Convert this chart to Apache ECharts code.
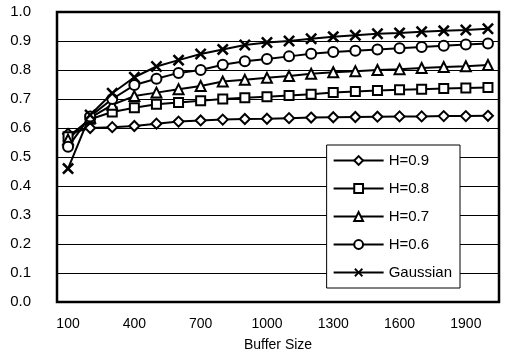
<!DOCTYPE html>
<html>
<head>
<meta charset="utf-8">
<script src="https://cdn.jsdelivr.net/npm/echarts@6/dist/echarts.min.js"></script>
<style>
  html, body { margin: 0; padding: 0; background: #fff; }
  #main { width: 508px; height: 361px; }
</style>
</head>
<body>
<div id="main"></div>
<script>
// buffer sizes
var bufferSize = ['100','200','300','400','500','600','700','800','900','1000',
                  '1100','1200','1300','1400','1500','1600','1700','1800','1900','2000'];

var h09 = [0.58, 0.60, 0.603, 0.607, 0.615, 0.622, 0.626, 0.629, 0.631, 0.632,
           0.634, 0.636, 0.637, 0.638, 0.639, 0.640, 0.640, 0.641, 0.641, 0.642];
var h08 = [0.57, 0.63, 0.655, 0.67, 0.682, 0.688, 0.694, 0.70, 0.704, 0.708,
           0.712, 0.716, 0.722, 0.726, 0.729, 0.732, 0.734, 0.736, 0.738, 0.74];
var h07 = [0.56, 0.635, 0.68, 0.71, 0.722, 0.734, 0.745, 0.76, 0.766, 0.773,
           0.779, 0.787, 0.792, 0.796, 0.80, 0.803, 0.807, 0.81, 0.813, 0.817];
var h06 = [0.535, 0.64, 0.70, 0.748, 0.77, 0.79, 0.80, 0.818, 0.83, 0.838,
           0.847, 0.856, 0.862, 0.866, 0.871, 0.875, 0.879, 0.884, 0.888, 0.891];
var gauss = [0.46, 0.645, 0.72, 0.775, 0.812, 0.834, 0.855, 0.871, 0.886, 0.895,
             0.90, 0.908, 0.915, 0.92, 0.925, 0.928, 0.932, 0.935, 0.938, 0.942];

var names = ['H=0.9', 'H=0.8', 'H=0.7', 'H=0.6', 'Gaussian'];

// X 形标记
var crossPath = 'path://M1.5,0 L5,3.5 L8.5,0 L10,1.5 L6.5,5 L10,8.5 L8.5,10 L5,6.5 L1.5,10 L0,8.5 L3.5,5 L0,1.5 Z';

function makeSeries(name, data, symbol, size, fill){
	return {
		name: name,
		type: 'line',
		data: data,
		symbol: symbol,
		symbolSize: size,
		showAllSymbol: true,
		lineStyle: { color: '#000', width: 2 },
		itemStyle: { color: fill, borderColor: '#000', borderWidth: 2 },
		emphasis: { disabled: true },
		animation: false
	};
}

var series = [
	makeSeries(names[0], h09, 'diamond', 10, '#fff'),
	makeSeries(names[1], h08, 'rect', 9, '#fff'),
	makeSeries(names[2], h07, 'triangle', 10, '#fff'),
	makeSeries(names[3], h06, 'circle', 10, '#fff'),
	makeSeries(names[4], gauss, crossPath, 12, '#000')
];
series[4].itemStyle.borderWidth = 0;

var option = {
	animation: false,
	textStyle: { fontFamily: 'Liberation Sans, Arial, sans-serif', color: '#000' },
	grid: {
		left: 57, right: 9, top: 12, bottom: 59,
		show: true,
		borderColor: '#000',
		borderWidth: 2.5
	},
	legend: {
		orient: 'vertical',
		right: 48,
		top: 145,
		data: names,
		itemWidth: 50,
		itemHeight: 11,
		itemGap: 13,
		padding: [8, 8, 8, 6],
		backgroundColor: '#fff',
		borderColor: '#000',
		borderWidth: 1,
		textStyle: { fontSize: 15, color: '#000', fontFamily: 'Liberation Sans, Arial, sans-serif' }
	},
	xAxis: {
		type: 'category',
		data: bufferSize,
		name: 'Buffer Size',
		nameLocation: 'middle',
		nameGap: 36,
		nameTextStyle: { fontSize: 14, color: '#000' },
		axisLine: { lineStyle: { color: '#000', width: 2 } },
		axisTick: { inside: true, length: 4, interval: 0, lineStyle: { color: '#000' } },
		axisLabel: { interval: 2, fontSize: 14, color: '#000', margin: 15 },
		splitLine: { show: false }
	},
	yAxis: {
		type: 'value',
		min: 0,
		max: 1,
		interval: 0.1,
		axisLine: { show: true, lineStyle: { color: '#000', width: 2 } },
		axisTick: { show: false },
		axisLabel: {
			fontSize: 15, color: '#000', margin: 26,
			formatter: function(v){ return v.toFixed(1); }
		},
		splitLine: { lineStyle: { color: '#000', width: 1 } }
	},
	series: series
};

var myChart = echarts.init(document.getElementById('main'), null, { renderer: 'canvas' });
myChart.setOption(option);
</script>
</body>
</html>
